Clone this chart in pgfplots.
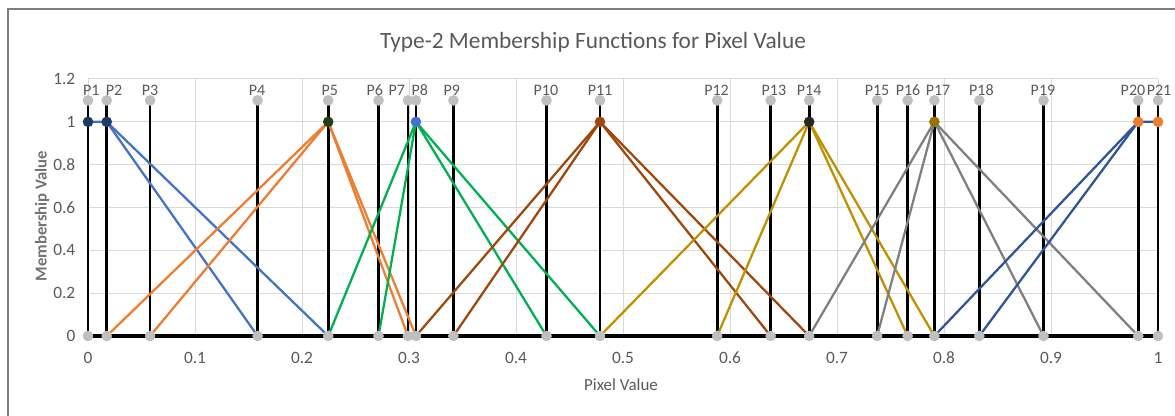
\documentclass[border=0pt]{standalone}
\usepackage{pgfplots}
\pgfplotsset{compat=1.18}
\usepackage{pgfplotstable}
\usepackage{fontspec}
\setmainfont{Carlito}
\definecolor{txt}{HTML}{595959}
\definecolor{gridc}{HTML}{D9D9D9}
\definecolor{mk}{HTML}{BFBFBF}
\definecolor{cblue}{HTML}{4472C4}
\definecolor{corange}{HTML}{ED7D31}
\definecolor{cgreen}{HTML}{00B050}
\definecolor{cbrown}{HTML}{9E480E}
\definecolor{cgold}{HTML}{BF9000}
\definecolor{cgray}{HTML}{7F7F7F}
\definecolor{cnavy}{HTML}{2F5597}
\definecolor{mnavy}{HTML}{1F3864}
\definecolor{mdgreen}{HTML}{263D17}
\definecolor{mblack}{HTML}{262626}
\definecolor{mgold}{HTML}{997300}

% x = point position, lx = label centre
\pgfplotstableread{
x      y   lx     lab
0      1.1 0.0030 P1
0.0175 1.1 0.0243 P2
0.058  1.1 0.058  P3
0.1585 1.1 0.158  P4
0.2245 1.1 0.226  P5
0.2715 1.1 0.268  P6
0.299  1.1 0.2887 P7
0.3065 1.1 0.3100 P8
0.3415 1.1 0.340  P9
0.4285 1.1 0.428  P10
0.4785 1.1 0.4785 P11
0.588  1.1 0.5874 P12
0.638  1.1 0.641  P13
0.674  1.1 0.674  P14
0.7375 1.1 0.7374 P15
0.766  1.1 0.7664 P16
0.791  1.1 0.7944 P17
0.833  1.1 0.835  P18
0.893  1.1 0.8925 P19
0.9815 1.1 0.9766 P20
1      1.1 1.0010 P21
}\points

\begin{document}
\begin{tikzpicture}
\useasboundingbox (0,0) rectangle (881.25pt,-312pt);
\draw[color=cgray, line width=1.2pt] (6pt,-330pt) -- (6pt,-6.75pt) -- (900pt,-6.75pt);
\node[font=\fontsize{17.5}{20}\selectfont, text=txt] at (444.75pt,-31.5pt) {Type-2 Membership Functions for Pixel Value};
\node[font=\fontsize{12.7}{14}\selectfont, text=txt] at (465.75pt,-288.75pt) {Pixel Value};
\node[font=\fontsize{12.5}{14}\selectfont\bfseries, text=txt!85, rotate=90] at (31.5pt,-162pt) {Membership Value};
\begin{axis}[
  at={(66pt,-252pt)}, anchor=south west,
  width=802.5pt, height=192.75pt, scale only axis,
  xmin=0, xmax=1, ymin=0, ymax=1.2, clip=false,
  xtick={0,0.1,0.2,0.3,0.4,0.5,0.6,0.7,0.8,0.9,1},
  ytick={0,0.2,0.4,0.6,0.8,1,1.2},
  grid=major, major grid style={draw=gridc, line width=0.75pt},
  axis line style={draw=none}, tick style={draw=none},
  /pgf/number format/assume math mode=true,
  /pgf/number format/fixed, /pgf/number format/precision=2,
  ticklabel style={font=\fontsize{13}{15}\selectfont, text=txt},
  yticklabel style={xshift=-6pt},
  xticklabel style={yshift=-8.5pt},
]
% baseline
\addplot[black, line width=3pt, mark=none] coordinates {(0,0) (1,0)};
% vertical lines
\addplot[ycomb, black, line width=2.1pt, mark=none] table[x=x,y=y] {\points};
% membership functions
\addplot[cblue, line width=1.7pt, mark=none] coordinates {(0,1) (0.0175,1) (0.1585,0)};
\addplot[cblue, line width=1.7pt, mark=none] coordinates {(0.0175,1) (0.2245,0)};
\addplot[corange, line width=1.7pt, mark=none] coordinates {(0.0175,0) (0.2245,1) (0.3065,0)};
\addplot[corange, line width=1.7pt, mark=none] coordinates {(0.058,0) (0.2245,1) (0.299,0)};
\addplot[cgreen, line width=1.7pt, mark=none] coordinates {(0.2245,0) (0.3065,1) (0.4785,0)};
\addplot[cgreen, line width=1.7pt, mark=none] coordinates {(0.2715,0) (0.3065,1) (0.4285,0)};
\addplot[cbrown, line width=1.7pt, mark=none] coordinates {(0.3065,0) (0.4785,1) (0.674,0)};
\addplot[cbrown, line width=1.7pt, mark=none] coordinates {(0.3415,0) (0.4785,1) (0.638,0)};
\addplot[cgold, line width=1.7pt, mark=none] coordinates {(0.4785,0) (0.674,1) (0.791,0)};
\addplot[cgold, line width=1.7pt, mark=none] coordinates {(0.588,0) (0.674,1) (0.766,0)};
\addplot[cgray, line width=1.7pt, mark=none] coordinates {(0.674,0) (0.791,1) (0.9815,0)};
\addplot[cgray, line width=1.7pt, mark=none] coordinates {(0.7375,0) (0.791,1) (0.893,0)};
\addplot[cnavy, line width=1.7pt, mark=none] coordinates {(0.791,0) (0.9815,1) (1,1)};
\addplot[cnavy, line width=1.7pt, mark=none] coordinates {(0.833,0) (0.9815,1)};
% gray markers at 0 and at top
\addplot[only marks, mark=*, mark size=3.75pt, color=mk] table[x=x, y expr=0] {\points};
\addplot[only marks, mark=*, mark size=3.75pt, color=mk] table[x=x, y=y] {\points};
% point labels
\addplot[only marks, mark=none,
  nodes near coords, point meta=explicit symbolic,
  every node near coord/.append style={anchor=base, yshift=3.5pt, font=\fontsize{12}{14}\selectfont, text=txt, inner sep=0pt}]
  table[x=lx, y=y, meta=lab] {\points};
% coloured markers at 1
\addplot[only marks, mark=*, mark size=3.75pt, color=mnavy] coordinates {(0,1) (0.0175,1)};
\addplot[only marks, mark=*, mark size=3.75pt, color=mdgreen] coordinates {(0.2245,1)};
\addplot[only marks, mark=*, mark size=3.75pt, color=cblue] coordinates {(0.3065,1)};
\addplot[only marks, mark=*, mark size=3.75pt, color=cbrown] coordinates {(0.4785,1)};
\addplot[only marks, mark=*, mark size=3.75pt, color=mblack] coordinates {(0.674,1)};
\addplot[only marks, mark=*, mark size=3.75pt, color=mgold] coordinates {(0.791,1)};
\addplot[only marks, mark=*, mark size=3.75pt, color=corange] coordinates {(0.9815,1) (1,1)};
\end{axis}
\end{tikzpicture}
\end{document}
